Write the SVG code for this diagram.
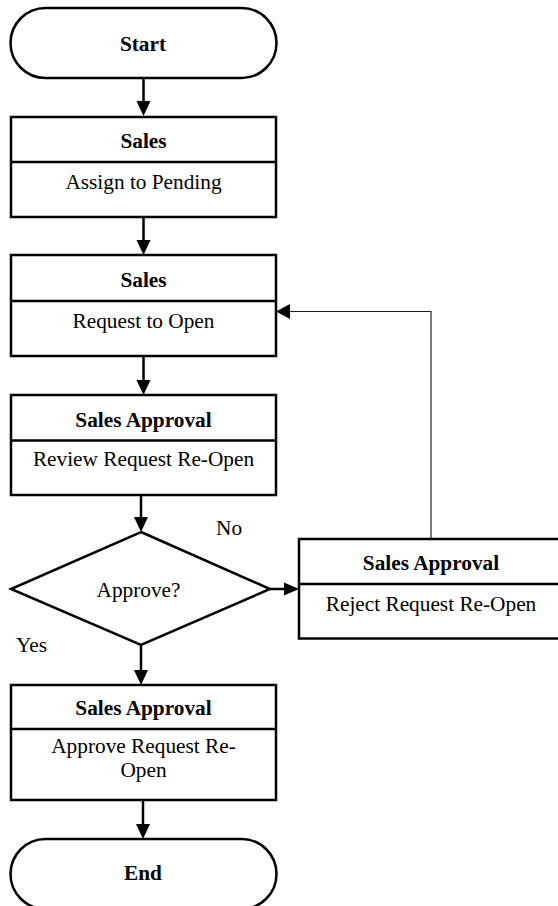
<svg xmlns="http://www.w3.org/2000/svg" width="558" height="906" viewBox="0 0 558 906">
<defs>
<style>
.shape{fill:#fff;stroke:#000;stroke-width:2.5}
.div{stroke:#000;stroke-width:2.5;fill:none}
.conn{stroke:#000;stroke-width:2.5;fill:none}
.thin{stroke:#222;stroke-width:1.2;fill:none}
.head{fill:#000;stroke:none}
text{font-family:"Liberation Serif","Times New Roman",serif;font-size:21.3px;fill:#000;text-anchor:middle}
.b{font-weight:bold}
.l{text-anchor:start}
</style>
</defs>
<rect width="558" height="906" fill="#fff"/>
<g id="connectors">
<line class="conn" x1="143.5" y1="78" x2="143.5" y2="103"/>
<polygon class="head" points="136.5,101 150.5,101 143.5,116"/>
<line class="conn" x1="143.5" y1="217" x2="143.5" y2="242"/>
<polygon class="head" points="136.5,240 150.5,240 143.5,255"/>
<line class="conn" x1="143.5" y1="356" x2="143.5" y2="382"/>
<polygon class="head" points="136.5,380 150.5,380 143.5,395"/>
<line class="conn" x1="141" y1="495" x2="141" y2="519"/>
<polygon class="head" points="134,517 148,517 141,532"/>
<line class="conn" x1="141" y1="645" x2="141" y2="672"/>
<polygon class="head" points="134,670 148,670 141,685"/>
<line class="conn" x1="143" y1="800" x2="143" y2="826"/>
<polygon class="head" points="136,824 150,824 143,839"/>
<line class="conn" x1="270" y1="589" x2="286" y2="589"/>
<polygon class="head" points="284,582.5 284,595.5 299,589"/>
<polyline class="thin" points="431,539 431,311.5 288,311.5"/>
<polygon class="head" points="290,304 290,319 276,311.5"/>
</g>
<g id="start">
<rect class="shape" x="10.5" y="8" width="266" height="70" rx="35" ry="35"/>
<text class="b" x="143" y="51">Start</text>
</g>
<g id="assign">
<rect class="shape" x="11" y="117" width="265" height="100"/>
<line class="div" x1="11" y1="162" x2="276" y2="162"/>
<text class="b" x="143.5" y="148">Sales</text>
<text x="143.5" y="189">Assign to Pending</text>
</g>
<g id="request">
<rect class="shape" x="11" y="255" width="265" height="101"/>
<line class="div" x1="11" y1="301" x2="276" y2="301"/>
<text class="b" x="143.5" y="287">Sales</text>
<text x="143.5" y="327.5">Request to Open</text>
</g>
<g id="review">
<rect class="shape" x="11" y="395" width="265" height="100"/>
<line class="div" x1="11" y1="440.5" x2="276" y2="440.5"/>
<text class="b" x="143.5" y="426.5">Sales Approval</text>
<text x="143.5" y="466">Review Request Re-Open</text>
</g>
<g id="decision">
<polygon class="shape" points="141,532 270,589 141,645 11,589"/>
<text x="138.5" y="597">Approve?</text>
</g>
<g id="reject">
<rect class="shape" x="299" y="539" width="264" height="99.5"/>
<line class="div" x1="299" y1="584" x2="563" y2="584"/>
<text class="b" x="431" y="569.5">Sales Approval</text>
<text x="431" y="610.5">Reject Request Re-Open</text>
</g>
<g id="approve">
<rect class="shape" x="11" y="685" width="265" height="115"/>
<line class="div" x1="11" y1="729" x2="276" y2="729"/>
<text class="b" x="143.5" y="715">Sales Approval</text>
<text x="143.5" y="753">Approve Request Re-</text>
<text x="143.5" y="777">Open</text>
</g>
<g id="end">
<rect class="shape" x="10.5" y="839" width="266" height="70" rx="35" ry="35"/>
<text class="b" x="143" y="880">End</text>
</g>
<g id="labels">
<text class="l" x="216" y="535">No</text>
<text class="l" x="16" y="651.5">Yes</text>
</g>
</svg>
